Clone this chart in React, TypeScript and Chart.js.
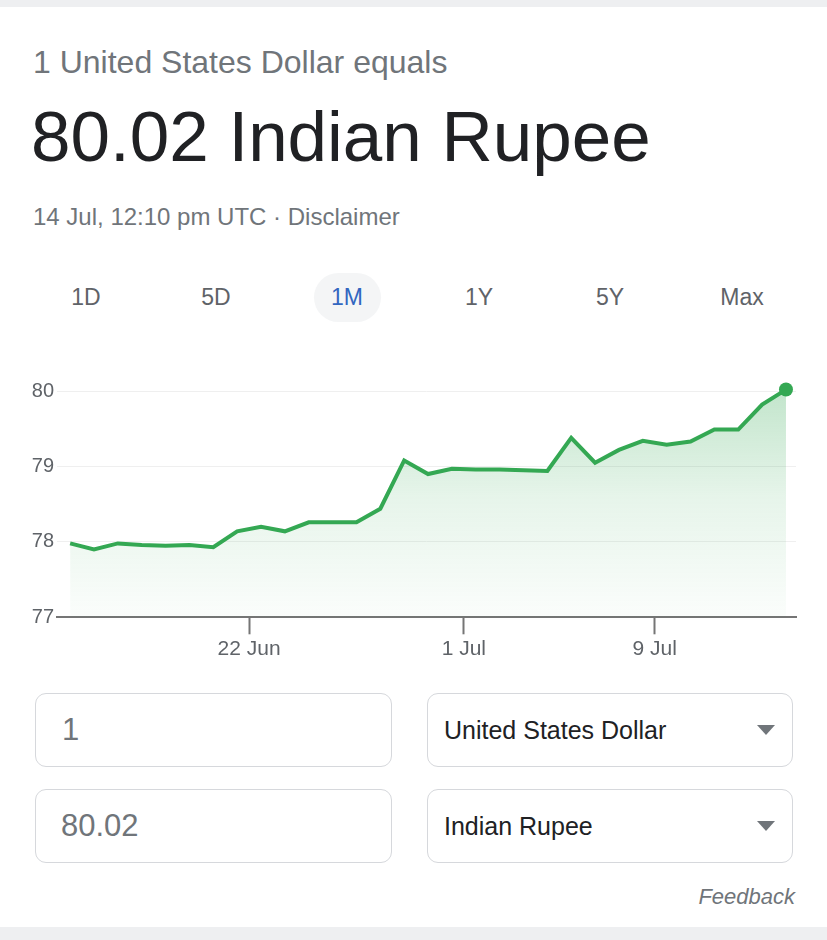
import React, { useEffect, useRef } from "react";
import { Chart, registerables } from "chart.js";

Chart.register(...registerables);

const dates = [
  "14 Jun", "15 Jun", "16 Jun", "17 Jun", "18 Jun", "19 Jun", "20 Jun", "21 Jun",
  "22 Jun", "23 Jun", "24 Jun", "25 Jun", "26 Jun", "27 Jun", "28 Jun", "29 Jun",
  "30 Jun", "1 Jul", "2 Jul", "3 Jul", "4 Jul", "5 Jul", "6 Jul", "7 Jul",
  "8 Jul", "9 Jul", "10 Jul", "11 Jul", "12 Jul", "13 Jul", "14 Jul",
];

const rates = [
  77.98, 77.9, 77.98, 77.96, 77.95, 77.96, 77.93, 78.14,
  78.2, 78.14, 78.26, 78.26, 78.26, 78.44, 79.08, 78.9,
  78.97, 78.96, 78.96, 78.95, 78.94, 79.38, 79.05, 79.22,
  79.34, 79.29, 79.33, 79.49, 79.49, 79.82, 80.02,
];

const xTickDates = ["22 Jun", "1 Jul", "9 Jul"];
const yTicks = [77, 78, 79, 80];
const tabs = ["1D", "5D", "1M", "1Y", "5Y", "Max"];
const activeTab = "1M";

const FONT = "'Liberation Sans', Arial, Helvetica, sans-serif";
const GREEN = "#34a853";
const GRAY = "#70757a";

function RateChart() {
  const ref = useRef<HTMLCanvasElement | null>(null);
  useEffect(() => {
    const canvas = ref.current;
    if (!canvas) return;
    const tickPos = xTickDates.map((d) => dates.indexOf(d) - 0.5);
    const chart = new Chart(canvas, {
      type: "line",
      data: {
        datasets: [
          {
            data: rates.map((v, i) => ({ x: i, y: v })),
            borderColor: GREEN,
            borderWidth: 4,
            tension: 0,
            fill: "start",
            backgroundColor: (ctx: any) => {
              const { chart: ch } = ctx;
              const area = ch.chartArea;
              if (!area) return "rgba(52,168,83,0.15)";
              const g = ch.ctx.createLinearGradient(0, area.top, 0, area.bottom);
              g.addColorStop(0, "rgba(52,168,83,0.32)");
              g.addColorStop(0.5, "rgba(52,168,83,0.12)");
              g.addColorStop(1, "rgba(52,168,83,0.02)");
              return g;
            },
            pointRadius: (ctx: any) => (ctx.dataIndex === rates.length - 1 ? 7 : 0),
            pointBackgroundColor: GREEN,
            pointBorderColor: GREEN,
            pointBorderWidth: 0,
            pointHoverRadius: 0,
          },
        ],
      },
      options: {
        animation: false,
        responsive: false,
        events: [],
        layout: { padding: { top: 16, right: 31, left: 0, bottom: 0 } },
        plugins: { legend: { display: false }, tooltip: { enabled: false } },
        scales: {
          x: {
            type: "linear",
            min: -0.55,
            max: 30.42,
            afterFit: (s: any) => {
              s.height = 62.7;
            },
            afterBuildTicks: (s: any) => {
              s.ticks = tickPos.map((v) => ({ value: v }));
            },
            grid: {
              drawOnChartArea: false,
              drawTicks: true,
              tickLength: 17,
              tickColor: "#757575",
              tickWidth: 2,
            },
            border: { display: true, color: "#757575", width: 2 },
            ticks: {
              autoSkip: false,
              maxRotation: 0,
              padding: 2,
              color: "#5f6368",
              font: { family: FONT, size: 21 },
              callback: (value: any) => {
                const k = tickPos.indexOf(Number(value));
                return k >= 0 ? xTickDates[k] : "";
              },
            },
          },
          y: {
            type: "linear",
            min: 77,
            max: 80.2,
            afterFit: (s: any) => {
              s.width = 57;
            },
            afterBuildTicks: (s: any) => {
              s.ticks = yTicks.map((v) => ({ value: v }));
            },
            grid: { color: "#efefef", lineWidth: 1, drawTicks: false },
            border: { display: false },
            ticks: {
              padding: 3,
              color: "#5f6368",
              font: { family: FONT, size: 20 },
              callback: (v: any) => String(v),
            },
          },
        },
      },
    } as any);
    return () => chart.destroy();
  }, []);
  return <canvas ref={ref} width={827} height={320} style={{ display: "block" }} />;
}

function Triangle({ top }: { top: number }) {
  return (
    <div
      style={{
        position: "absolute",
        left: 757,
        top,
        width: 0,
        height: 0,
        borderLeft: "9px solid transparent",
        borderRight: "9px solid transparent",
        borderTop: `10px solid ${GRAY}`,
      }}
    />
  );
}

function Box({ left, top, width, children }: any) {
  return (
    <div
      style={{
        position: "absolute",
        left,
        top,
        width,
        height: 74,
        boxSizing: "border-box",
        border: "1.5px solid #d6d8dc",
        borderRadius: 11,
        display: "flex",
        alignItems: "center",
      }}
    >
      {children}
    </div>
  );
}

export default function App() {
  const tabCenters = [86, 216, 347, 479, 610, 742];
  return (
    <div
      style={{
        position: "absolute",
        left: 0,
        top: 0,
        width: 827,
        height: 940,
        background: "#ffffff",
        overflow: "hidden",
        fontFamily: FONT,
      }}
    >
      <div style={{ position: "absolute", left: 0, top: 0, width: 827, height: 7, background: "#eeeff1" }} />
      <div style={{ position: "absolute", left: 0, top: 927, width: 827, height: 13, background: "#eeeff1" }} />

      <div style={{ position: "absolute", left: 33, top: 46, fontSize: 32, lineHeight: 1, color: GRAY, whiteSpace: "nowrap" }}>
        1 United States Dollar equals
      </div>
      <div style={{ position: "absolute", left: 31, top: 101, fontSize: 71, lineHeight: 1, color: "#202124", whiteSpace: "nowrap" }}>
        80.02 Indian Rupee
      </div>
      <div style={{ position: "absolute", left: 33, top: 205, fontSize: 24, lineHeight: 1, color: GRAY, whiteSpace: "nowrap" }}>
        14 Jul, 12:10 pm UTC · Disclaimer
      </div>

      <div
        style={{
          position: "absolute",
          left: 314,
          top: 273,
          width: 67,
          height: 49,
          borderRadius: 25,
          background: "#f4f5f6",
        }}
      />
      {tabs.map((t, i) => (
        <div
          key={t}
          style={{
            position: "absolute",
            left: tabCenters[i] - 50,
            width: 100,
            top: 286,
            fontSize: 23,
            lineHeight: 1,
            textAlign: "center",
            color: t === activeTab ? "#3266c0" : "#5f6368",
          }}
        >
          {t}
        </div>
      ))}

      <div style={{ position: "absolute", left: 0, top: 360, width: 827, height: 320 }}>
        <RateChart />
      </div>

      <Box left={35} top={693} width={357}>
        <span style={{ paddingLeft: 26, fontSize: 31, color: GRAY }}>1</span>
      </Box>
      <Box left={35} top={789} width={357}>
        <span style={{ paddingLeft: 25, fontSize: 31, color: GRAY }}>80.02</span>
      </Box>
      <Box left={427} top={693} width={366}>
        <span style={{ paddingLeft: 16, fontSize: 25, color: "#202124" }}>United States Dollar</span>
      </Box>
      <Box left={427} top={789} width={366}>
        <span style={{ paddingLeft: 16, fontSize: 25, color: "#202124" }}>Indian Rupee</span>
      </Box>
      <Triangle top={725} />
      <Triangle top={821} />

      <div
        style={{
          position: "absolute",
          right: 32,
          top: 886,
          fontSize: 22,
          lineHeight: 1,
          fontStyle: "italic",
          color: GRAY,
        }}
      >
        Feedback
      </div>
    </div>
  );
}
